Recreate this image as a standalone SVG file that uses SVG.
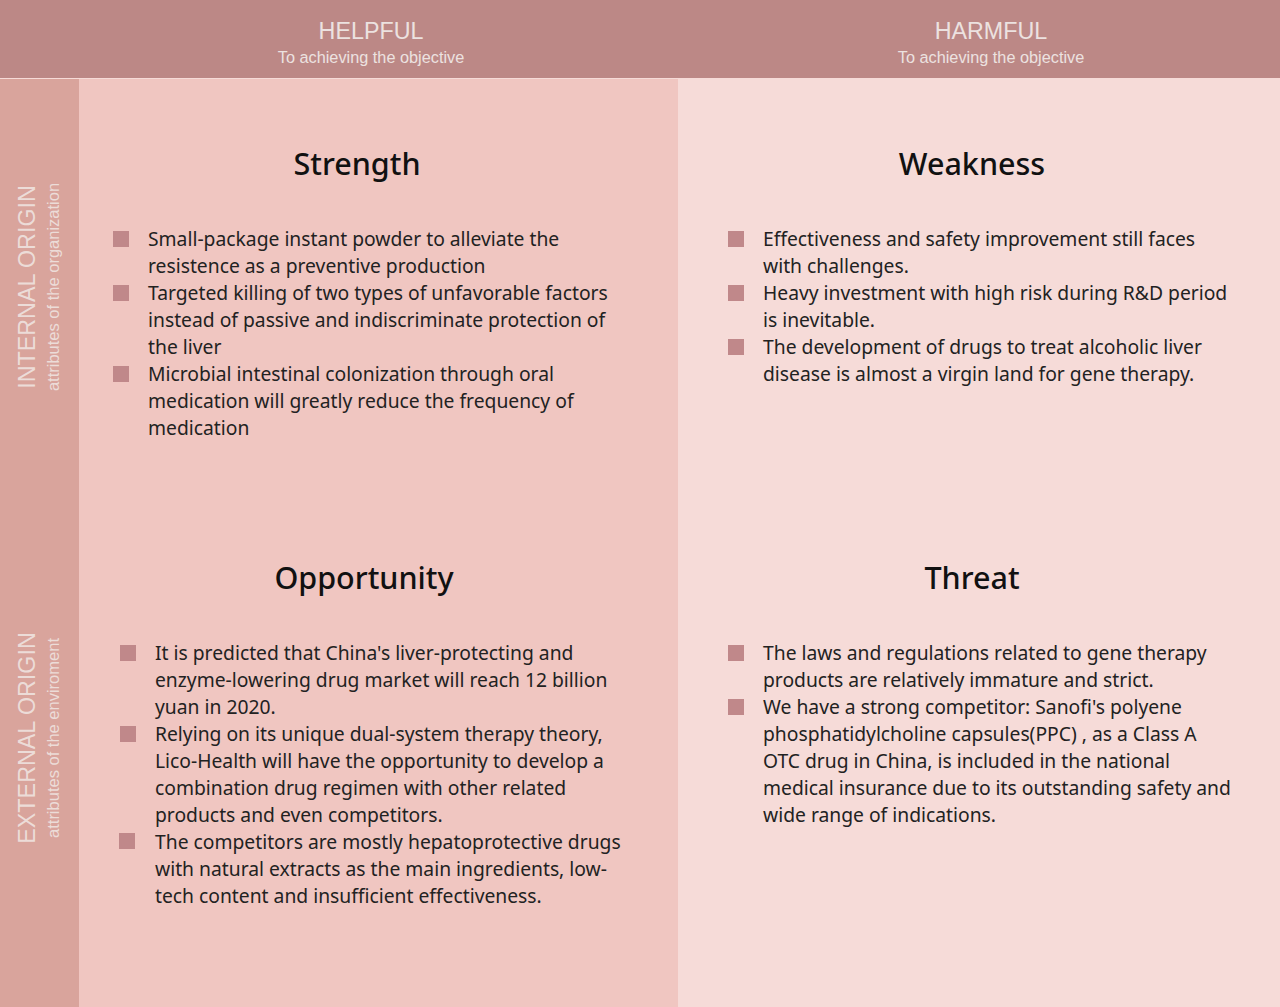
<svg xmlns="http://www.w3.org/2000/svg" width="1280" height="1007" viewBox="0 0 1280 1007">
<style>
.hd{font-family:"Liberation Sans",Arial,sans-serif;fill:#ECE2E0;text-anchor:middle}
.h1{font-size:23.3px}
.h2{font-size:16.3px}
.side1{font-family:"Liberation Sans",Arial,sans-serif;font-size:23.3px;fill:#ECDCD8;text-anchor:middle}
.side2{font-family:"Liberation Sans",Arial,sans-serif;font-size:16.5px;fill:#ECDCD8;text-anchor:middle}
.title{font-family:"Noto Sans","Liberation Sans",sans-serif;font-size:30.5px;font-weight:500;fill:#111;text-anchor:middle}
.body{font-family:"Noto Sans","Liberation Sans",sans-serif;font-size:19.3px;fill:#222}
.bul{fill:#C0888A}
</style>
<rect x="0" y="0" width="1280" height="1007" fill="#F6DBD8"/>
<g id="header">
<rect x="0" y="0" width="1280" height="78" fill="#BC8886"/>
<text class="hd h1" x="371" y="39">HELPFUL</text>
<text class="hd h2" x="371" y="63">To achieving the objective</text>
<text class="hd h1" x="991" y="39">HARMFUL</text>
<text class="hd h2" x="991" y="63">To achieving the objective</text>
</g>
<g id="sidebar">
<rect x="0" y="79" width="79" height="928" fill="#D9A49C"/>
<text class="side1" transform="translate(35,287) rotate(-90)">INTERNAL ORIGIN</text>
<text class="side2" transform="translate(59,287) rotate(-90)">attributes of the organization</text>
<text class="side1" transform="translate(35,738) rotate(-90)">EXTERNAL ORIGIN</text>
<text class="side2" transform="translate(59,738) rotate(-90)">attributes of the enviroment</text>
</g>
<rect x="79" y="79" width="599" height="928" fill="#F0C6C1"/>
<g id="strength">
<text class="title" x="357" y="175">Strength</text>
<rect class="bul" x="113" y="231" width="16" height="16"/>
<rect class="bul" x="113" y="285" width="16" height="16"/>
<rect class="bul" x="113" y="366" width="16" height="16"/>
<text class="body"><tspan x="148" y="246">Small-package instant powder to alleviate the</tspan><tspan x="148" y="273">resistence as a preventive production</tspan><tspan x="148" y="300">Targeted killing of two types of unfavorable factors</tspan><tspan x="148" y="327">instead of passive and indiscriminate protection of</tspan><tspan x="148" y="354">the liver</tspan><tspan x="148" y="381">Microbial intestinal colonization through oral</tspan><tspan x="148" y="408">medication will greatly reduce the frequency of</tspan><tspan x="148" y="435">medication</tspan></text>
</g>
<g id="weakness">
<text class="title" x="972" y="175">Weakness</text>
<rect class="bul" x="728" y="231" width="16" height="16"/>
<rect class="bul" x="728" y="285" width="16" height="16"/>
<rect class="bul" x="728" y="339" width="16" height="16"/>
<text class="body"><tspan x="763" y="246">Effectiveness and safety improvement still faces</tspan><tspan x="763" y="273">with challenges.</tspan><tspan x="763" y="300">Heavy investment with high risk during R&amp;D period</tspan><tspan x="763" y="327">is inevitable.</tspan><tspan x="763" y="354">The development of drugs to treat alcoholic liver</tspan><tspan x="763" y="381">disease is almost a virgin land for gene therapy.</tspan></text>
</g>
<g id="opportunity">
<text class="title" x="364" y="589">Opportunity</text>
<rect class="bul" x="120" y="645" width="16" height="16"/>
<rect class="bul" x="120" y="726" width="16" height="16"/>
<rect class="bul" x="119" y="833" width="16" height="16"/>
<text class="body"><tspan x="155" y="660">It is predicted that China's liver-protecting and</tspan><tspan x="155" y="687">enzyme-lowering drug market will reach 12 billion</tspan><tspan x="155" y="714">yuan in 2020.</tspan><tspan x="155" y="741">Relying on its unique dual-system therapy theory,</tspan><tspan x="155" y="768">Lico-Health will have the opportunity to develop a</tspan><tspan x="155" y="795">combination drug regimen with other related</tspan><tspan x="155" y="822">products and even competitors.</tspan><tspan x="155" y="849">The competitors are mostly hepatoprotective drugs</tspan><tspan x="155" y="876">with natural extracts as the main ingredients, low-</tspan><tspan x="155" y="903">tech content and insufficient effectiveness.</tspan></text>
</g>
<g id="threat">
<text class="title" x="972" y="589">Threat</text>
<rect class="bul" x="728" y="645" width="16" height="16"/>
<rect class="bul" x="728" y="699" width="16" height="16"/>
<text class="body"><tspan x="763" y="660">The laws and regulations related to gene therapy</tspan><tspan x="763" y="687">products are relatively immature and strict.</tspan><tspan x="763" y="714">We have a strong competitor: Sanofi's polyene</tspan><tspan x="763" y="741">phosphatidylcholine capsules(PPC) , as a Class A</tspan><tspan x="763" y="768">OTC drug in China, is included in the national</tspan><tspan x="763" y="795">medical insurance due to its outstanding safety and</tspan><tspan x="763" y="822">wide range of indications.</tspan></text>
</g>
<g id="connectors"></g>
</svg>
